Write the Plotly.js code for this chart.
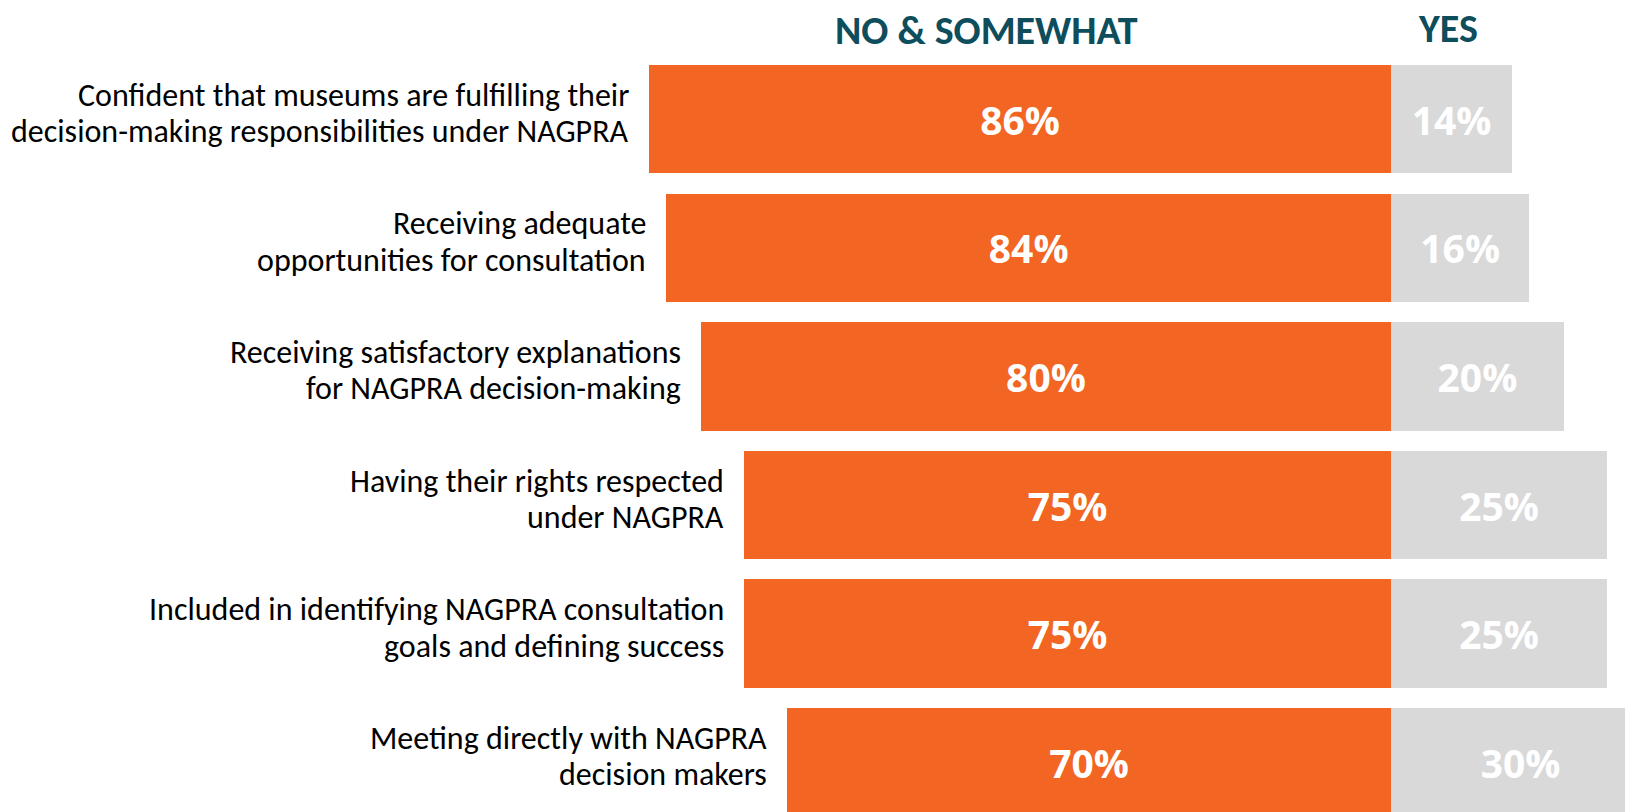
<!DOCTYPE html>
<html>
<head>
<meta charset="utf-8">
<script src="https://cdn.plot.ly/plotly-3.0.1.min.js"></script>
<style>
html,body{margin:0;padding:0;background:#fff;}
#chart{width:1625px;height:812px;}
</style>
</head>
<body>
<div id="chart"></div>
<script>
const categories = [
  "Confident that museums are fulfilling their<br>decision-making responsibilities under NAGPRA",
  "Receiving adequate<br>opportunities for consultation",
  "Receiving satisfactory explanations<br>for NAGPRA decision-making",
  "Having their rights respected<br>under NAGPRA",
  "Included in identifying NAGPRA consultation<br>goals and defining success",
  "Meeting directly with NAGPRA<br>decision makers"
];
const noSomewhat = [86, 84, 80, 75, 75, 70];
const yes = [14, 16, 20, 25, 25, 30];
const seriesNames = ["NO & SOMEWHAT", "YES"];

const yIdx = categories.map((c, i) => i);
const labelFont = "Carlito, 'Open Sans', sans-serif";
const boldFont = "Carlito, 'Open Sans', sans-serif";
const valueFont = "'Open Sans', sans-serif";

const traces = [
  {
    type: 'bar', orientation: 'h', name: seriesNames[0],
    y: yIdx, x: noSomewhat.map(v => -v),
    text: noSomewhat.map(v => v + '%'),
    textposition: 'inside', insidetextanchor: 'middle',
    textfont: {family: valueFont, size: 39, color: '#ffffff', weight: 700},
    marker: {color: '#F26522', line: {width: 0}},
    width: 0.844, hoverinfo: 'skip'
  },
  {
    type: 'bar', orientation: 'h', name: seriesNames[1],
    y: yIdx, x: yes,
    text: yes.map(v => v + '%'),
    textposition: 'inside', insidetextanchor: 'middle',
    textfont: {family: valueFont, size: 39, color: '#ffffff', weight: 700},
    marker: {color: '#D9D9D9', line: {width: 0}},
    width: 0.844, hoverinfo: 'skip'
  }
];

const annotations = [];
categories.forEach((c, i) => {
  const lines = c.split('<br>');
  const shifts = [24, -12.4];
  lines.forEach((ln, k) => {
    annotations.push({
      x: -noSomewhat[i], y: i, xref: 'x', yref: 'y',
      text: ln, showarrow: false, xanchor: 'right', yanchor: 'middle', align: 'right',
      xshift: -18, yshift: shifts[k],
      font: {family: labelFont, size: 32, color: '#000000'}
    });
  });
});
annotations.push({
  x: 0.607, y: 0.962, xref: 'paper', yref: 'paper', text: '<b>' + seriesNames[0] + '</b>',
  showarrow: false, xanchor: 'center', yanchor: 'middle',
  font: {family: boldFont, size: 40, color: '#0E4D5C'}
});
annotations.push({
  x: 0.891, y: 0.9655, xref: 'paper', yref: 'paper', text: '<b>' + seriesNames[1] + '</b>',
  showarrow: false, xanchor: 'center', yanchor: 'middle',
  font: {family: boldFont, size: 40, color: '#0E4D5C'}
});

const layout = {
  width: 1625, height: 812,
  margin: {l: 0, r: 0, t: 0, b: 0, pad: 0},
  paper_bgcolor: '#ffffff', plot_bgcolor: '#ffffff',
  barmode: 'relative', bargap: 0,
  showlegend: false,
  xaxis: {range: [-161.2, 27.1], visible: false, showgrid: false, zeroline: false, fixedrange: true},
  yaxis: {range: [5.387, -0.927], visible: false, showgrid: false, zeroline: false, fixedrange: true},
  annotations: annotations,
  uniformtext: {mode: false}
};

Plotly.newPlot('chart', traces, layout, {displayModeBar: false, staticPlot: true});
</script>
</body>
</html>
